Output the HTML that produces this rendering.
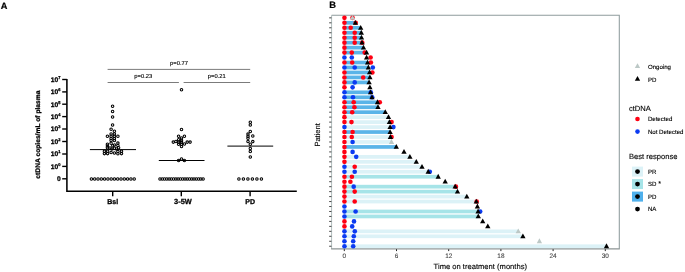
<!DOCTYPE html>
<html><head><meta charset="utf-8"><title>Figure</title>
<style>
html,body{margin:0;padding:0;background:#fff;}
body{width:685px;height:272px;overflow:hidden;font-family:"Liberation Sans",sans-serif;}
svg{display:block;text-rendering:geometricPrecision;will-change:transform;transform:translateZ(0);}
</style></head><body>
<svg width="685" height="272" viewBox="0 0 685 272">
<defs><filter id="soft" x="0" y="0" width="100%" height="100%" filterUnits="userSpaceOnUse" color-interpolation-filters="sRGB"><feGaussianBlur stdDeviation="0.34"/></filter></defs>
<g filter="url(#soft)">
<rect x="-5" y="-5" width="695" height="282" fill="#fff"/>
<g id="panelA">
<text x="0.8" y="8.5" font-family="Liberation Sans, sans-serif" font-weight="bold" stroke="#000" stroke-width="0.2" font-size="9.2" fill="#000">A</text>
<path d="M66.9 79 V191.2 H296.8" fill="none" stroke="#000" stroke-width="1.55"/>
<line x1="62.2" x2="66.9" y1="79.5" y2="79.5" stroke="#000" stroke-width="1.4"/>
<text x="58.2" y="81.9" text-anchor="end" font-family="Liberation Sans, sans-serif" font-weight="bold" stroke="#000" stroke-width="0.28" font-size="6.7" fill="#000">10</text>
<text x="58.3" y="78.9" font-family="Liberation Sans, sans-serif" font-weight="bold" stroke="#000" stroke-width="0.28" font-size="4" fill="#000">7</text>
<line x1="62.2" x2="66.9" y1="91.9" y2="91.9" stroke="#000" stroke-width="1.4"/>
<text x="58.2" y="94.30000000000001" text-anchor="end" font-family="Liberation Sans, sans-serif" font-weight="bold" stroke="#000" stroke-width="0.28" font-size="6.7" fill="#000">10</text>
<text x="58.3" y="91.30000000000001" font-family="Liberation Sans, sans-serif" font-weight="bold" stroke="#000" stroke-width="0.28" font-size="4" fill="#000">6</text>
<line x1="62.2" x2="66.9" y1="104.2" y2="104.2" stroke="#000" stroke-width="1.4"/>
<text x="58.2" y="106.60000000000001" text-anchor="end" font-family="Liberation Sans, sans-serif" font-weight="bold" stroke="#000" stroke-width="0.28" font-size="6.7" fill="#000">10</text>
<text x="58.3" y="103.60000000000001" font-family="Liberation Sans, sans-serif" font-weight="bold" stroke="#000" stroke-width="0.28" font-size="4" fill="#000">5</text>
<line x1="62.2" x2="66.9" y1="116.6" y2="116.6" stroke="#000" stroke-width="1.4"/>
<text x="58.2" y="119.0" text-anchor="end" font-family="Liberation Sans, sans-serif" font-weight="bold" stroke="#000" stroke-width="0.28" font-size="6.7" fill="#000">10</text>
<text x="58.3" y="116.0" font-family="Liberation Sans, sans-serif" font-weight="bold" stroke="#000" stroke-width="0.28" font-size="4" fill="#000">4</text>
<line x1="62.2" x2="66.9" y1="129.0" y2="129.0" stroke="#000" stroke-width="1.4"/>
<text x="58.2" y="131.4" text-anchor="end" font-family="Liberation Sans, sans-serif" font-weight="bold" stroke="#000" stroke-width="0.28" font-size="6.7" fill="#000">10</text>
<text x="58.3" y="128.4" font-family="Liberation Sans, sans-serif" font-weight="bold" stroke="#000" stroke-width="0.28" font-size="4" fill="#000">3</text>
<line x1="62.2" x2="66.9" y1="141.5" y2="141.5" stroke="#000" stroke-width="1.4"/>
<text x="58.2" y="143.9" text-anchor="end" font-family="Liberation Sans, sans-serif" font-weight="bold" stroke="#000" stroke-width="0.28" font-size="6.7" fill="#000">10</text>
<text x="58.3" y="140.9" font-family="Liberation Sans, sans-serif" font-weight="bold" stroke="#000" stroke-width="0.28" font-size="4" fill="#000">2</text>
<line x1="62.2" x2="66.9" y1="154.0" y2="154.0" stroke="#000" stroke-width="1.4"/>
<text x="58.2" y="156.4" text-anchor="end" font-family="Liberation Sans, sans-serif" font-weight="bold" stroke="#000" stroke-width="0.28" font-size="6.7" fill="#000">10</text>
<text x="58.3" y="153.4" font-family="Liberation Sans, sans-serif" font-weight="bold" stroke="#000" stroke-width="0.28" font-size="4" fill="#000">1</text>
<line x1="62.2" x2="66.9" y1="166.4" y2="166.4" stroke="#000" stroke-width="1.4"/>
<text x="58.2" y="168.8" text-anchor="end" font-family="Liberation Sans, sans-serif" font-weight="bold" stroke="#000" stroke-width="0.28" font-size="6.7" fill="#000">10</text>
<text x="58.3" y="165.8" font-family="Liberation Sans, sans-serif" font-weight="bold" stroke="#000" stroke-width="0.28" font-size="4" fill="#000">0</text>
<line x1="62.2" x2="66.9" y1="178.8" y2="178.8" stroke="#000" stroke-width="1.4"/>
<text x="60.8" y="181.20000000000002" text-anchor="end" font-family="Liberation Sans, sans-serif" font-weight="bold" stroke="#000" stroke-width="0.28" font-size="6.7" fill="#000">0</text>
<text transform="translate(39.9,134.6) rotate(-90)" text-anchor="middle" font-family="Liberation Sans, sans-serif" font-weight="bold" stroke="#000" stroke-width="0.25" font-size="6.7" fill="#000">ctDNA copies/mL of plasma</text>
<line x1="112.7" x2="112.7" y1="191" y2="196.2" stroke="#000" stroke-width="1.4"/>
<text x="112.7" y="204.1" text-anchor="middle" font-family="Liberation Sans, sans-serif" font-weight="bold" stroke="#000" stroke-width="0.28" font-size="7" fill="#000">Bsl</text>
<line x1="181.3" x2="181.3" y1="191" y2="196.2" stroke="#000" stroke-width="1.4"/>
<text x="182.9" y="204.1" text-anchor="middle" font-family="Liberation Sans, sans-serif" font-weight="bold" stroke="#000" stroke-width="0.28" font-size="7.4" fill="#000">3-5W</text>
<line x1="250.1" x2="250.1" y1="191" y2="196.2" stroke="#000" stroke-width="1.4"/>
<text x="250.1" y="204.1" text-anchor="middle" font-family="Liberation Sans, sans-serif" font-weight="bold" stroke="#000" stroke-width="0.28" font-size="7" fill="#000">PD</text>
<g stroke="#222" stroke-width="0.6">
<line x1="107.6" x2="250.2" y1="69.4" y2="69.4"/>
<line x1="107.6" x2="178.9" y1="82.5" y2="82.5"/>
<line x1="183.6" x2="250.2" y1="82.5" y2="82.5"/>
</g>
<text x="179" y="65.1" text-anchor="middle" font-family="Liberation Sans, sans-serif" font-size="5.8" fill="#000" stroke="#000" stroke-width="0.12">p=0.77</text>
<text x="143.3" y="78.2" text-anchor="middle" font-family="Liberation Sans, sans-serif" font-size="5.8" fill="#000" stroke="#000" stroke-width="0.12">p=0.23</text>
<text x="216.8" y="78.2" text-anchor="middle" font-family="Liberation Sans, sans-serif" font-size="5.8" fill="#000" stroke="#000" stroke-width="0.12">p=0.21</text>
<g stroke="#000" stroke-width="1.0">
<line x1="89.9" x2="136" y1="149.6" y2="149.6"/>
<line x1="158.8" x2="204.5" y1="160.5" y2="160.5"/>
<line x1="227.4" x2="273.2" y1="146.1" y2="146.1"/>
</g>
<g fill="none" stroke="#000" stroke-width="1.05">
<circle cx="112.6" cy="106.3" r="1.25"/>
<circle cx="112.6" cy="111.4" r="1.25"/>
<circle cx="112.6" cy="116.9" r="1.25"/>
<circle cx="112.6" cy="124.9" r="1.25"/>
<circle cx="111.1" cy="129.2" r="1.25"/>
<circle cx="114.4" cy="131.3" r="1.25"/>
<circle cx="111.1" cy="133.9" r="1.25"/>
<circle cx="114.4" cy="133.9" r="1.25"/>
<circle cx="107.4" cy="136.2" r="1.25"/>
<circle cx="111.1" cy="136.2" r="1.25"/>
<circle cx="114.4" cy="136.2" r="1.25"/>
<circle cx="117.9" cy="136.2" r="1.25"/>
<circle cx="111.1" cy="138.4" r="1.25"/>
<circle cx="114.4" cy="138.4" r="1.25"/>
<circle cx="111.1" cy="140.5" r="1.25"/>
<circle cx="114.4" cy="140.5" r="1.25"/>
<circle cx="107.4" cy="144.2" r="1.25"/>
<circle cx="107.4" cy="146.0" r="1.25"/>
<circle cx="107.4" cy="147.8" r="1.25"/>
<circle cx="111.1" cy="143.3" r="1.25"/>
<circle cx="112.8" cy="145.8" r="1.25"/>
<circle cx="114.6" cy="144.9" r="1.25"/>
<circle cx="117.9" cy="143.1" r="1.25"/>
<circle cx="117.9" cy="145.4" r="1.25"/>
<circle cx="110.0" cy="148.0" r="1.25"/>
<circle cx="111.9" cy="148.9" r="1.25"/>
<circle cx="114.4" cy="148.2" r="1.25"/>
<circle cx="116.6" cy="149.0" r="1.25"/>
<circle cx="118.6" cy="147.8" r="1.25"/>
<circle cx="104.4" cy="151.2" r="1.25"/>
<circle cx="104.4" cy="153.6" r="1.25"/>
<circle cx="107.6" cy="151.2" r="1.25"/>
<circle cx="107.6" cy="153.6" r="1.25"/>
<circle cx="111.1" cy="152.5" r="1.25"/>
<circle cx="114.4" cy="153.0" r="1.25"/>
<circle cx="117.9" cy="151.5" r="1.25"/>
<circle cx="117.9" cy="153.7" r="1.25"/>
<circle cx="121.5" cy="151.2" r="1.25"/>
<circle cx="121.5" cy="153.6" r="1.25"/>
<circle cx="181.5" cy="89.7" r="1.25"/>
<circle cx="181.5" cy="129.5" r="1.25"/>
<circle cx="178.6" cy="136.3" r="1.25"/>
<circle cx="184.4" cy="136.3" r="1.25"/>
<circle cx="181.5" cy="138.0" r="1.25"/>
<circle cx="178.6" cy="139.8" r="1.25"/>
<circle cx="181.5" cy="140.2" r="1.25"/>
<circle cx="173.3" cy="142.1" r="1.25"/>
<circle cx="175.9" cy="141.5" r="1.25"/>
<circle cx="178.6" cy="142.1" r="1.25"/>
<circle cx="181.5" cy="142.1" r="1.25"/>
<circle cx="187.2" cy="142.1" r="1.25"/>
<circle cx="190.1" cy="142.1" r="1.25"/>
<circle cx="178.6" cy="144.3" r="1.25"/>
<circle cx="181.5" cy="144.3" r="1.25"/>
<circle cx="184.4" cy="144.0" r="1.25"/>
<circle cx="181.5" cy="146.4" r="1.25"/>
<circle cx="178.6" cy="160.5" r="1.25"/>
<circle cx="181.5" cy="159.0" r="1.25"/>
<circle cx="184.4" cy="160.5" r="1.25"/>
<circle cx="250.3" cy="122.3" r="1.25"/>
<circle cx="250.3" cy="124.9" r="1.25"/>
<circle cx="250.3" cy="131.4" r="1.25"/>
<circle cx="248.0" cy="134.1" r="1.25"/>
<circle cx="252.8" cy="135.9" r="1.25"/>
<circle cx="248.0" cy="136.3" r="1.25"/>
<circle cx="248.0" cy="138.3" r="1.25"/>
<circle cx="248.0" cy="141.4" r="1.25"/>
<circle cx="252.8" cy="141.6" r="1.25"/>
<circle cx="250.3" cy="144.3" r="1.25"/>
<circle cx="250.3" cy="148.4" r="1.25"/>
<circle cx="250.3" cy="151.5" r="1.25"/>
<circle cx="250.3" cy="156.9" r="1.25"/>
<circle cx="91.4" cy="178.9" r="1.25"/>
<circle cx="94.7" cy="178.9" r="1.25"/>
<circle cx="98.0" cy="178.9" r="1.25"/>
<circle cx="101.3" cy="178.9" r="1.25"/>
<circle cx="104.6" cy="178.9" r="1.25"/>
<circle cx="107.9" cy="178.9" r="1.25"/>
<circle cx="111.2" cy="178.9" r="1.25"/>
<circle cx="114.4" cy="178.9" r="1.25"/>
<circle cx="117.7" cy="178.9" r="1.25"/>
<circle cx="121.0" cy="178.9" r="1.25"/>
<circle cx="124.3" cy="178.9" r="1.25"/>
<circle cx="127.6" cy="178.9" r="1.25"/>
<circle cx="130.9" cy="178.9" r="1.25"/>
<circle cx="134.2" cy="178.9" r="1.25"/>
<circle cx="160.0" cy="178.9" r="1.25"/>
<circle cx="162.3" cy="178.9" r="1.25"/>
<circle cx="164.5" cy="178.9" r="1.25"/>
<circle cx="166.8" cy="178.9" r="1.25"/>
<circle cx="169.1" cy="178.9" r="1.25"/>
<circle cx="171.3" cy="178.9" r="1.25"/>
<circle cx="173.6" cy="178.9" r="1.25"/>
<circle cx="175.9" cy="178.9" r="1.25"/>
<circle cx="178.1" cy="178.9" r="1.25"/>
<circle cx="180.4" cy="178.9" r="1.25"/>
<circle cx="182.7" cy="178.9" r="1.25"/>
<circle cx="185.0" cy="178.9" r="1.25"/>
<circle cx="187.2" cy="178.9" r="1.25"/>
<circle cx="189.5" cy="178.9" r="1.25"/>
<circle cx="191.8" cy="178.9" r="1.25"/>
<circle cx="194.0" cy="178.9" r="1.25"/>
<circle cx="196.3" cy="178.9" r="1.25"/>
<circle cx="198.6" cy="178.9" r="1.25"/>
<circle cx="200.8" cy="178.9" r="1.25"/>
<circle cx="203.1" cy="178.9" r="1.25"/>
<circle cx="238.9" cy="178.9" r="1.25"/>
<circle cx="243.4" cy="178.9" r="1.25"/>
<circle cx="247.9" cy="178.9" r="1.25"/>
<circle cx="252.4" cy="178.9" r="1.25"/>
<circle cx="256.9" cy="178.9" r="1.25"/>
<circle cx="261.4" cy="178.9" r="1.25"/>
</g>
</g>
<g id="panelB">
<text x="329.2" y="7.7" font-family="Liberation Sans, sans-serif" font-weight="bold" stroke="#000" stroke-width="0.2" font-size="9.3" fill="#000">B</text>
<path d="M331.6 15.2 H619.3 V248.8" fill="none" stroke="#8f9c9d" stroke-width="1.05"/>
<path d="M331.6 15.2 V248.8" fill="none" stroke="#b0bcbc" stroke-width="1.0"/>
<path d="M331.1 248.8 H619.8" fill="none" stroke="#8d9494" stroke-width="1.15"/>
<rect x="344.45" y="20.96" width="10.95" height="3.7" fill="#5ab4e8"/>
<rect x="344.45" y="25.93" width="16.25" height="3.7" fill="#5ab4e8"/>
<rect x="344.45" y="30.90" width="16.85" height="3.7" fill="#5ab4e8"/>
<rect x="344.45" y="35.86" width="17.05" height="3.7" fill="#5ab4e8"/>
<rect x="344.45" y="40.82" width="17.55" height="3.7" fill="#5ab4e8"/>
<rect x="344.45" y="45.79" width="19.05" height="3.7" fill="#5ab4e8"/>
<rect x="344.45" y="50.75" width="22.15" height="3.7" fill="#5ab4e8"/>
<rect x="344.45" y="60.69" width="23.15" height="3.7" fill="#5ab4e8"/>
<rect x="344.45" y="65.65" width="23.95" height="3.7" fill="#5ab4e8"/>
<rect x="344.45" y="70.62" width="25.15" height="3.7" fill="#5ab4e8"/>
<rect x="344.45" y="75.58" width="25.45" height="3.7" fill="#5ab4e8"/>
<rect x="344.45" y="80.55" width="24.65" height="3.7" fill="#5ab4e8"/>
<rect x="344.45" y="90.47" width="26.15" height="3.7" fill="#5ab4e8"/>
<rect x="344.45" y="95.44" width="27.55" height="3.7" fill="#5ab4e8"/>
<rect x="344.45" y="100.41" width="33.05" height="3.7" fill="#5ab4e8"/>
<rect x="344.45" y="105.37" width="33.55" height="3.7" fill="#5ab4e8"/>
<rect x="344.45" y="110.34" width="40.85" height="3.7" fill="#5ab4e8"/>
<rect x="344.45" y="115.30" width="44.05" height="3.7" fill="#dcf2f7"/>
<rect x="344.45" y="120.27" width="44.95" height="3.7" fill="#dcf2f7"/>
<rect x="344.45" y="125.23" width="45.65" height="3.7" fill="#dcf2f7"/>
<rect x="344.45" y="130.19" width="45.65" height="3.7" fill="#5ab4e8"/>
<rect x="344.45" y="135.16" width="45.95" height="3.7" fill="#dcf2f7"/>
<rect x="344.45" y="140.12" width="47.05" height="3.7" fill="#dcf2f7"/>
<rect x="344.45" y="145.09" width="51.85" height="3.7" fill="#5ab4e8"/>
<rect x="344.45" y="155.02" width="65.45" height="3.7" fill="#dcf2f7"/>
<rect x="344.45" y="159.98" width="71.85" height="3.7" fill="#dcf2f7"/>
<rect x="344.45" y="164.95" width="77.55" height="3.7" fill="#dcf2f7"/>
<rect x="344.45" y="169.91" width="83.75" height="3.7" fill="#dcf2f7"/>
<rect x="344.45" y="174.88" width="93.75" height="3.7" fill="#a6e4e8"/>
<rect x="344.45" y="184.81" width="110.75" height="3.7" fill="#a6e4e8"/>
<rect x="344.45" y="189.78" width="113.05" height="3.7" fill="#a6e4e8"/>
<rect x="344.45" y="194.74" width="122.35" height="3.7" fill="#dcf2f7"/>
<rect x="344.45" y="199.70" width="131.85" height="3.7" fill="#dcf2f7"/>
<rect x="344.45" y="209.63" width="133.65" height="3.7" fill="#a6e4e8"/>
<rect x="344.45" y="214.60" width="133.85" height="3.7" fill="#a6e4e8"/>
<rect x="344.45" y="229.50" width="173.85" height="3.7" fill="#dcf2f7"/>
<rect x="344.45" y="234.46" width="178.45" height="3.7" fill="#dcf2f7"/>
<rect x="344.45" y="244.39" width="262.05" height="3.7" fill="#dcf2f7"/>
<circle cx="344.45" cy="17.85" r="2.3" fill="#ff0012"/>
<circle cx="352.5" cy="17.85" r="2.3" fill="#ff0012"/>
<circle cx="344.45" cy="22.82" r="2.3" fill="#ff0012"/>
<circle cx="355.7" cy="22.82" r="2.3" fill="#ff0012"/>
<circle cx="344.45" cy="27.78" r="2.3" fill="#ff0012"/>
<circle cx="350.7" cy="27.78" r="2.3" fill="#ff0012"/>
<circle cx="344.45" cy="32.75" r="2.3" fill="#ff0012"/>
<circle cx="354.7" cy="32.75" r="2.3" fill="#ff0012"/>
<circle cx="344.45" cy="37.71" r="2.3" fill="#ff0012"/>
<circle cx="354.7" cy="37.71" r="2.3" fill="#ff0012"/>
<circle cx="344.45" cy="42.67" r="2.3" fill="#ff0012"/>
<circle cx="354.7" cy="42.67" r="2.3" fill="#ff0012"/>
<circle cx="362.3" cy="42.67" r="2.3" fill="#ff0012"/>
<circle cx="344.45" cy="47.64" r="2.3" fill="#ff0012"/>
<circle cx="344.45" cy="52.60" r="2.3" fill="#ff0012"/>
<circle cx="351.8" cy="52.60" r="2.3" fill="#ff0012"/>
<circle cx="364.7" cy="52.60" r="2.3" fill="#ff0012"/>
<circle cx="344.45" cy="57.57" r="2.3" fill="#0b3bf2"/>
<circle cx="351.8" cy="57.57" r="2.3" fill="#0b3bf2"/>
<circle cx="370.6" cy="57.57" r="2.3" fill="#ff0012"/>
<circle cx="344.45" cy="62.54" r="2.3" fill="#ff0012"/>
<circle cx="352.2" cy="62.54" r="2.3" fill="#ff0012"/>
<circle cx="370.9" cy="62.54" r="2.3" fill="#ff0012"/>
<circle cx="344.45" cy="67.50" r="2.3" fill="#0b3bf2"/>
<circle cx="354.7" cy="67.50" r="2.3" fill="#0b3bf2"/>
<circle cx="372.8" cy="67.50" r="2.3" fill="#0b3bf2"/>
<circle cx="344.45" cy="72.47" r="2.3" fill="#ff0012"/>
<circle cx="372.4" cy="72.47" r="2.3" fill="#ff0012"/>
<circle cx="344.45" cy="77.43" r="2.3" fill="#ff0012"/>
<circle cx="363.2" cy="77.43" r="2.3" fill="#ff0012"/>
<circle cx="344.45" cy="82.40" r="2.3" fill="#ff0012"/>
<circle cx="354.7" cy="82.40" r="2.3" fill="#0b3bf2"/>
<circle cx="344.45" cy="87.36" r="2.3" fill="#ff0012"/>
<circle cx="352.6" cy="87.36" r="2.3" fill="#0b3bf2"/>
<circle cx="344.45" cy="92.32" r="2.3" fill="#0b3bf2"/>
<circle cx="370.8" cy="92.32" r="2.3" fill="#0b3bf2"/>
<circle cx="344.45" cy="97.29" r="2.3" fill="#0b3bf2"/>
<circle cx="353.0" cy="97.29" r="2.3" fill="#0b3bf2"/>
<circle cx="372.2" cy="97.29" r="2.3" fill="#0b3bf2"/>
<circle cx="344.45" cy="102.25" r="2.3" fill="#ff0012"/>
<circle cx="353.7" cy="102.25" r="2.3" fill="#ff0012"/>
<circle cx="379.8" cy="102.25" r="2.3" fill="#ff0012"/>
<circle cx="344.45" cy="107.22" r="2.3" fill="#ff0012"/>
<circle cx="354.4" cy="107.22" r="2.3" fill="#ff0012"/>
<circle cx="344.45" cy="112.19" r="2.3" fill="#ff0012"/>
<circle cx="352.2" cy="112.19" r="2.3" fill="#ff0012"/>
<circle cx="344.45" cy="117.15" r="2.3" fill="#ff0012"/>
<circle cx="344.45" cy="122.12" r="2.3" fill="#ff0012"/>
<circle cx="351.5" cy="122.12" r="2.3" fill="#ff0012"/>
<circle cx="391.6" cy="122.12" r="2.3" fill="#ff0012"/>
<circle cx="344.45" cy="127.08" r="2.3" fill="#0b3bf2"/>
<circle cx="393.4" cy="127.08" r="2.3" fill="#0b3bf2"/>
<circle cx="344.45" cy="132.04" r="2.3" fill="#ff0012"/>
<circle cx="352.6" cy="132.04" r="2.3" fill="#ff0012"/>
<circle cx="344.45" cy="137.01" r="2.3" fill="#ff0012"/>
<circle cx="351.8" cy="137.01" r="2.3" fill="#ff0012"/>
<circle cx="391.6" cy="137.01" r="2.3" fill="#ff0012"/>
<circle cx="344.45" cy="141.97" r="2.3" fill="#ff0012"/>
<circle cx="352.6" cy="141.97" r="2.3" fill="#0b3bf2"/>
<circle cx="344.45" cy="146.94" r="2.3" fill="#ff0012"/>
<circle cx="344.45" cy="151.91" r="2.3" fill="#ff0012"/>
<circle cx="352.6" cy="151.91" r="2.3" fill="#0b3bf2"/>
<circle cx="344.45" cy="156.87" r="2.3" fill="#ff0012"/>
<circle cx="356.2" cy="156.87" r="2.3" fill="#0b3bf2"/>
<circle cx="344.45" cy="161.83" r="2.3" fill="#ff0012"/>
<circle cx="344.45" cy="166.80" r="2.3" fill="#0b3bf2"/>
<circle cx="354.7" cy="166.80" r="2.3" fill="#ff0012"/>
<circle cx="344.45" cy="171.76" r="2.3" fill="#0b3bf2"/>
<circle cx="354.7" cy="171.76" r="2.3" fill="#0b3bf2"/>
<circle cx="429.8" cy="171.76" r="2.3" fill="#0b3bf2"/>
<circle cx="344.45" cy="176.73" r="2.3" fill="#ff0012"/>
<circle cx="351.9" cy="176.73" r="2.3" fill="#ff0012"/>
<circle cx="344.45" cy="181.69" r="2.3" fill="#ff0012"/>
<circle cx="350.4" cy="181.69" r="2.3" fill="#ff0012"/>
<circle cx="344.45" cy="186.66" r="2.3" fill="#ff0012"/>
<circle cx="353.7" cy="186.66" r="2.3" fill="#0b3bf2"/>
<circle cx="455.9" cy="186.66" r="2.3" fill="#ff0012"/>
<circle cx="344.45" cy="191.62" r="2.3" fill="#ff0012"/>
<circle cx="354.7" cy="191.62" r="2.3" fill="#ff0012"/>
<circle cx="344.45" cy="196.59" r="2.3" fill="#ff0012"/>
<circle cx="344.45" cy="201.55" r="2.3" fill="#ff0012"/>
<circle cx="354.7" cy="201.55" r="2.3" fill="#ff0012"/>
<circle cx="476.7" cy="201.55" r="2.3" fill="#ff0012"/>
<circle cx="344.45" cy="206.52" r="2.3" fill="#0b3bf2"/>
<circle cx="344.45" cy="211.48" r="2.3" fill="#0b3bf2"/>
<circle cx="355.6" cy="211.48" r="2.3" fill="#0b3bf2"/>
<circle cx="480.2" cy="211.48" r="2.3" fill="#0b3bf2"/>
<circle cx="344.45" cy="216.45" r="2.3" fill="#0b3bf2"/>
<circle cx="344.45" cy="221.41" r="2.3" fill="#ff0012"/>
<circle cx="354.0" cy="221.41" r="2.3" fill="#0b3bf2"/>
<circle cx="344.45" cy="226.38" r="2.3" fill="#ff0012"/>
<circle cx="352.2" cy="226.38" r="2.3" fill="#0b3bf2"/>
<circle cx="344.45" cy="231.34" r="2.3" fill="#0b3bf2"/>
<circle cx="354.8" cy="231.34" r="2.3" fill="#0b3bf2"/>
<circle cx="344.45" cy="236.31" r="2.3" fill="#0b3bf2"/>
<circle cx="353.8" cy="236.31" r="2.3" fill="#0b3bf2"/>
<circle cx="344.45" cy="241.27" r="2.3" fill="#0b3bf2"/>
<circle cx="353.2" cy="241.27" r="2.3" fill="#0b3bf2"/>
<circle cx="344.45" cy="246.24" r="2.3" fill="#0b3bf2"/>
<circle cx="353.2" cy="246.24" r="2.3" fill="#0b3bf2"/>
<path d="M352.50 14.95 L355.15 19.75 H349.85 Z" fill="#bcc8c6"/>
<path d="M355.40 19.92 L358.05 24.71 H352.75 Z" fill="#000"/>
<path d="M360.70 24.88 L363.35 29.68 H358.05 Z" fill="#000"/>
<path d="M361.30 29.85 L363.95 34.65 H358.65 Z" fill="#000"/>
<path d="M361.50 34.81 L364.15 39.61 H358.85 Z" fill="#000"/>
<path d="M362.00 39.77 L364.65 44.57 H359.35 Z" fill="#000"/>
<path d="M363.50 44.74 L366.15 49.54 H360.85 Z" fill="#000"/>
<path d="M366.60 49.70 L369.25 54.50 H363.95 Z" fill="#000"/>
<path d="M366.60 54.67 L369.25 59.47 H363.95 Z" fill="#000"/>
<path d="M367.60 59.64 L370.25 64.44 H364.95 Z" fill="#000"/>
<path d="M368.40 64.60 L371.05 69.40 H365.75 Z" fill="#000"/>
<path d="M369.60 69.56 L372.25 74.37 H366.95 Z" fill="#000"/>
<path d="M369.90 74.53 L372.55 79.33 H367.25 Z" fill="#000"/>
<path d="M369.10 79.50 L371.75 84.30 H366.45 Z" fill="#000"/>
<path d="M369.90 84.46 L372.55 89.26 H367.25 Z" fill="#000"/>
<path d="M370.60 89.42 L373.25 94.22 H367.95 Z" fill="#000"/>
<path d="M372.00 94.39 L374.65 99.19 H369.35 Z" fill="#000"/>
<path d="M377.50 99.35 L380.15 104.16 H374.85 Z" fill="#000"/>
<path d="M378.00 104.32 L380.65 109.12 H375.35 Z" fill="#000"/>
<path d="M385.30 109.28 L387.95 114.09 H382.65 Z" fill="#000"/>
<path d="M388.50 114.25 L391.15 119.05 H385.85 Z" fill="#000"/>
<path d="M389.40 119.22 L392.05 124.02 H386.75 Z" fill="#000"/>
<path d="M390.10 124.18 L392.75 128.98 H387.45 Z" fill="#000"/>
<path d="M390.10 129.14 L392.75 133.94 H387.45 Z" fill="#000"/>
<path d="M390.40 134.11 L393.05 138.91 H387.75 Z" fill="#000"/>
<path d="M391.50 139.07 L394.15 143.88 H388.85 Z" fill="#bcc8c6"/>
<path d="M396.30 144.04 L398.95 148.84 H393.65 Z" fill="#000"/>
<path d="M404.00 149.00 L406.65 153.81 H401.35 Z" fill="#000"/>
<path d="M409.90 153.97 L412.55 158.77 H407.25 Z" fill="#000"/>
<path d="M416.30 158.93 L418.95 163.73 H413.65 Z" fill="#000"/>
<path d="M422.00 163.90 L424.65 168.70 H419.35 Z" fill="#000"/>
<path d="M428.20 168.86 L430.85 173.66 H425.55 Z" fill="#000"/>
<path d="M438.20 173.83 L440.85 178.63 H435.55 Z" fill="#000"/>
<path d="M445.20 178.79 L447.85 183.59 H442.55 Z" fill="#000"/>
<path d="M455.20 183.76 L457.85 188.56 H452.55 Z" fill="#000"/>
<path d="M457.50 188.72 L460.15 193.53 H454.85 Z" fill="#000"/>
<path d="M466.80 193.69 L469.45 198.49 H464.15 Z" fill="#000"/>
<path d="M476.30 198.65 L478.95 203.45 H473.65 Z" fill="#000"/>
<path d="M477.40 203.62 L480.05 208.42 H474.75 Z" fill="#000"/>
<path d="M478.10 208.58 L480.75 213.38 H475.45 Z" fill="#000"/>
<path d="M478.30 213.55 L480.95 218.35 H475.65 Z" fill="#000"/>
<path d="M482.70 218.51 L485.35 223.31 H480.05 Z" fill="#000"/>
<path d="M487.80 223.48 L490.45 228.28 H485.15 Z" fill="#000"/>
<path d="M518.30 228.44 L520.95 233.25 H515.65 Z" fill="#bcc8c6"/>
<path d="M522.90 233.41 L525.55 238.21 H520.25 Z" fill="#000"/>
<path d="M539.40 238.37 L542.05 243.17 H536.75 Z" fill="#bcc8c6"/>
<path d="M606.50 243.34 L609.15 248.14 H603.85 Z" fill="#000"/>
<line x1="329.2" x2="331.4" y1="17.85" y2="17.85" stroke="#222" stroke-width="0.85"/>
<line x1="329.2" x2="331.4" y1="22.82" y2="22.82" stroke="#222" stroke-width="0.85"/>
<line x1="329.2" x2="331.4" y1="27.78" y2="27.78" stroke="#222" stroke-width="0.85"/>
<line x1="329.2" x2="331.4" y1="32.75" y2="32.75" stroke="#222" stroke-width="0.85"/>
<line x1="329.2" x2="331.4" y1="37.71" y2="37.71" stroke="#222" stroke-width="0.85"/>
<line x1="329.2" x2="331.4" y1="42.67" y2="42.67" stroke="#222" stroke-width="0.85"/>
<line x1="329.2" x2="331.4" y1="47.64" y2="47.64" stroke="#222" stroke-width="0.85"/>
<line x1="329.2" x2="331.4" y1="52.60" y2="52.60" stroke="#222" stroke-width="0.85"/>
<line x1="329.2" x2="331.4" y1="57.57" y2="57.57" stroke="#222" stroke-width="0.85"/>
<line x1="329.2" x2="331.4" y1="62.54" y2="62.54" stroke="#222" stroke-width="0.85"/>
<line x1="329.2" x2="331.4" y1="67.50" y2="67.50" stroke="#222" stroke-width="0.85"/>
<line x1="329.2" x2="331.4" y1="72.47" y2="72.47" stroke="#222" stroke-width="0.85"/>
<line x1="329.2" x2="331.4" y1="77.43" y2="77.43" stroke="#222" stroke-width="0.85"/>
<line x1="329.2" x2="331.4" y1="82.40" y2="82.40" stroke="#222" stroke-width="0.85"/>
<line x1="329.2" x2="331.4" y1="87.36" y2="87.36" stroke="#222" stroke-width="0.85"/>
<line x1="329.2" x2="331.4" y1="92.32" y2="92.32" stroke="#222" stroke-width="0.85"/>
<line x1="329.2" x2="331.4" y1="97.29" y2="97.29" stroke="#222" stroke-width="0.85"/>
<line x1="329.2" x2="331.4" y1="102.25" y2="102.25" stroke="#222" stroke-width="0.85"/>
<line x1="329.2" x2="331.4" y1="107.22" y2="107.22" stroke="#222" stroke-width="0.85"/>
<line x1="329.2" x2="331.4" y1="112.19" y2="112.19" stroke="#222" stroke-width="0.85"/>
<line x1="329.2" x2="331.4" y1="117.15" y2="117.15" stroke="#222" stroke-width="0.85"/>
<line x1="329.2" x2="331.4" y1="122.12" y2="122.12" stroke="#222" stroke-width="0.85"/>
<line x1="329.2" x2="331.4" y1="127.08" y2="127.08" stroke="#222" stroke-width="0.85"/>
<line x1="329.2" x2="331.4" y1="132.04" y2="132.04" stroke="#222" stroke-width="0.85"/>
<line x1="329.2" x2="331.4" y1="137.01" y2="137.01" stroke="#222" stroke-width="0.85"/>
<line x1="329.2" x2="331.4" y1="141.97" y2="141.97" stroke="#222" stroke-width="0.85"/>
<line x1="329.2" x2="331.4" y1="146.94" y2="146.94" stroke="#222" stroke-width="0.85"/>
<line x1="329.2" x2="331.4" y1="151.91" y2="151.91" stroke="#222" stroke-width="0.85"/>
<line x1="329.2" x2="331.4" y1="156.87" y2="156.87" stroke="#222" stroke-width="0.85"/>
<line x1="329.2" x2="331.4" y1="161.83" y2="161.83" stroke="#222" stroke-width="0.85"/>
<line x1="329.2" x2="331.4" y1="166.80" y2="166.80" stroke="#222" stroke-width="0.85"/>
<line x1="329.2" x2="331.4" y1="171.76" y2="171.76" stroke="#222" stroke-width="0.85"/>
<line x1="329.2" x2="331.4" y1="176.73" y2="176.73" stroke="#222" stroke-width="0.85"/>
<line x1="329.2" x2="331.4" y1="181.69" y2="181.69" stroke="#222" stroke-width="0.85"/>
<line x1="329.2" x2="331.4" y1="186.66" y2="186.66" stroke="#222" stroke-width="0.85"/>
<line x1="329.2" x2="331.4" y1="191.62" y2="191.62" stroke="#222" stroke-width="0.85"/>
<line x1="329.2" x2="331.4" y1="196.59" y2="196.59" stroke="#222" stroke-width="0.85"/>
<line x1="329.2" x2="331.4" y1="201.55" y2="201.55" stroke="#222" stroke-width="0.85"/>
<line x1="329.2" x2="331.4" y1="206.52" y2="206.52" stroke="#222" stroke-width="0.85"/>
<line x1="329.2" x2="331.4" y1="211.48" y2="211.48" stroke="#222" stroke-width="0.85"/>
<line x1="329.2" x2="331.4" y1="216.45" y2="216.45" stroke="#222" stroke-width="0.85"/>
<line x1="329.2" x2="331.4" y1="221.41" y2="221.41" stroke="#222" stroke-width="0.85"/>
<line x1="329.2" x2="331.4" y1="226.38" y2="226.38" stroke="#222" stroke-width="0.85"/>
<line x1="329.2" x2="331.4" y1="231.34" y2="231.34" stroke="#222" stroke-width="0.85"/>
<line x1="329.2" x2="331.4" y1="236.31" y2="236.31" stroke="#222" stroke-width="0.85"/>
<line x1="329.2" x2="331.4" y1="241.27" y2="241.27" stroke="#222" stroke-width="0.85"/>
<line x1="329.2" x2="331.4" y1="246.24" y2="246.24" stroke="#222" stroke-width="0.85"/>
<line x1="344.3" x2="344.3" y1="249.2" y2="251.1" stroke="#222" stroke-width="1.0"/>
<text x="344.3" y="258.1" text-anchor="middle" font-family="Liberation Sans, sans-serif" font-size="6.4" fill="#444" stroke="#444" stroke-width="0.1">0</text>
<line x1="396.5" x2="396.5" y1="249.2" y2="251.1" stroke="#222" stroke-width="1.0"/>
<text x="396.5" y="258.1" text-anchor="middle" font-family="Liberation Sans, sans-serif" font-size="6.4" fill="#444" stroke="#444" stroke-width="0.1">6</text>
<line x1="448.7" x2="448.7" y1="249.2" y2="251.1" stroke="#222" stroke-width="1.0"/>
<text x="448.7" y="258.1" text-anchor="middle" font-family="Liberation Sans, sans-serif" font-size="6.4" fill="#444" stroke="#444" stroke-width="0.1">12</text>
<line x1="500.9" x2="500.9" y1="249.2" y2="251.1" stroke="#222" stroke-width="1.0"/>
<text x="500.9" y="258.1" text-anchor="middle" font-family="Liberation Sans, sans-serif" font-size="6.4" fill="#444" stroke="#444" stroke-width="0.1">18</text>
<line x1="553.1" x2="553.1" y1="249.2" y2="251.1" stroke="#222" stroke-width="1.0"/>
<text x="553.1" y="258.1" text-anchor="middle" font-family="Liberation Sans, sans-serif" font-size="6.4" fill="#444" stroke="#444" stroke-width="0.1">24</text>
<line x1="605.3" x2="605.3" y1="249.2" y2="251.1" stroke="#222" stroke-width="1.0"/>
<text x="605.3" y="258.1" text-anchor="middle" font-family="Liberation Sans, sans-serif" font-size="6.4" fill="#444" stroke="#444" stroke-width="0.1">30</text>
<text x="480.3" y="269.3" text-anchor="middle" font-family="Liberation Sans, sans-serif" font-size="7.6" fill="#000" stroke="#000" stroke-width="0.12">Time on treatment (months)</text>
<text transform="translate(320.3,134.9) rotate(-90)" text-anchor="middle" font-family="Liberation Sans, sans-serif" font-size="7.5" fill="#000" stroke="#000" stroke-width="0.12">Patient</text>
<path d="M637.50 63.20 L640.15 68.00 H634.85 Z" fill="#bcc8c6"/>
<text x="647.9" y="68.8" font-family="Liberation Sans, sans-serif" font-size="6.1" fill="#000" stroke="#000" stroke-width="0.12">Ongoing</text>
<path d="M637.50 76.00 L640.15 80.80 H634.85 Z" fill="#000"/>
<text x="647.9" y="81.6" font-family="Liberation Sans, sans-serif" font-size="6.1" fill="#000" stroke="#000" stroke-width="0.12">PD</text>
<text x="628.9" y="110.7" font-family="Liberation Sans, sans-serif" font-size="7.6" fill="#000" stroke="#000" stroke-width="0.12">ctDNA</text>
<circle cx="637.5" cy="119.0" r="2.3" fill="#ff0012"/>
<text x="647.9" y="121.3" font-family="Liberation Sans, sans-serif" font-size="6.1" fill="#000" stroke="#000" stroke-width="0.12">Detected</text>
<circle cx="637.5" cy="131.6" r="2.3" fill="#0b3bf2"/>
<text x="647.9" y="133.8" font-family="Liberation Sans, sans-serif" font-size="6.1" fill="#000" stroke="#000" stroke-width="0.12">Not Detected</text>
<text x="628.9" y="158.9" font-family="Liberation Sans, sans-serif" font-size="7.6" fill="#000" stroke="#000" stroke-width="0.12">Best response</text>
<rect x="632" y="166.6" width="11" height="10" fill="#dcf2f7"/>
<circle cx="637.5" cy="171.6" r="2.4" fill="#000"/>
<text x="647.9" y="173.9" font-family="Liberation Sans, sans-serif" font-size="6.1" fill="#000" stroke="#000" stroke-width="0.12">PR</text>
<rect x="632" y="179.1" width="11" height="10" fill="#a6e4e8"/>
<circle cx="637.5" cy="184.1" r="2.4" fill="#000"/>
<text x="647.9" y="186.4" font-family="Liberation Sans, sans-serif" font-size="6.1" fill="#000" stroke="#000" stroke-width="0.12">SD</text>
<rect x="632" y="191.6" width="11" height="10" fill="#4fb0ec"/>
<circle cx="637.5" cy="196.6" r="2.4" fill="#000"/>
<text x="647.9" y="198.9" font-family="Liberation Sans, sans-serif" font-size="6.1" fill="#000" stroke="#000" stroke-width="0.12">PD</text>
<circle cx="637.5" cy="209.1" r="2.4" fill="#000"/>
<text x="647.9" y="211.4" font-family="Liberation Sans, sans-serif" font-size="6.1" fill="#000" stroke="#000" stroke-width="0.12">NA</text>
<text x="658.2" y="185.9" font-family="Liberation Sans, sans-serif" font-size="7.2" fill="#000" stroke="#000" stroke-width="0.12">*</text>
</g>
</g>
</svg>
</body></html>
